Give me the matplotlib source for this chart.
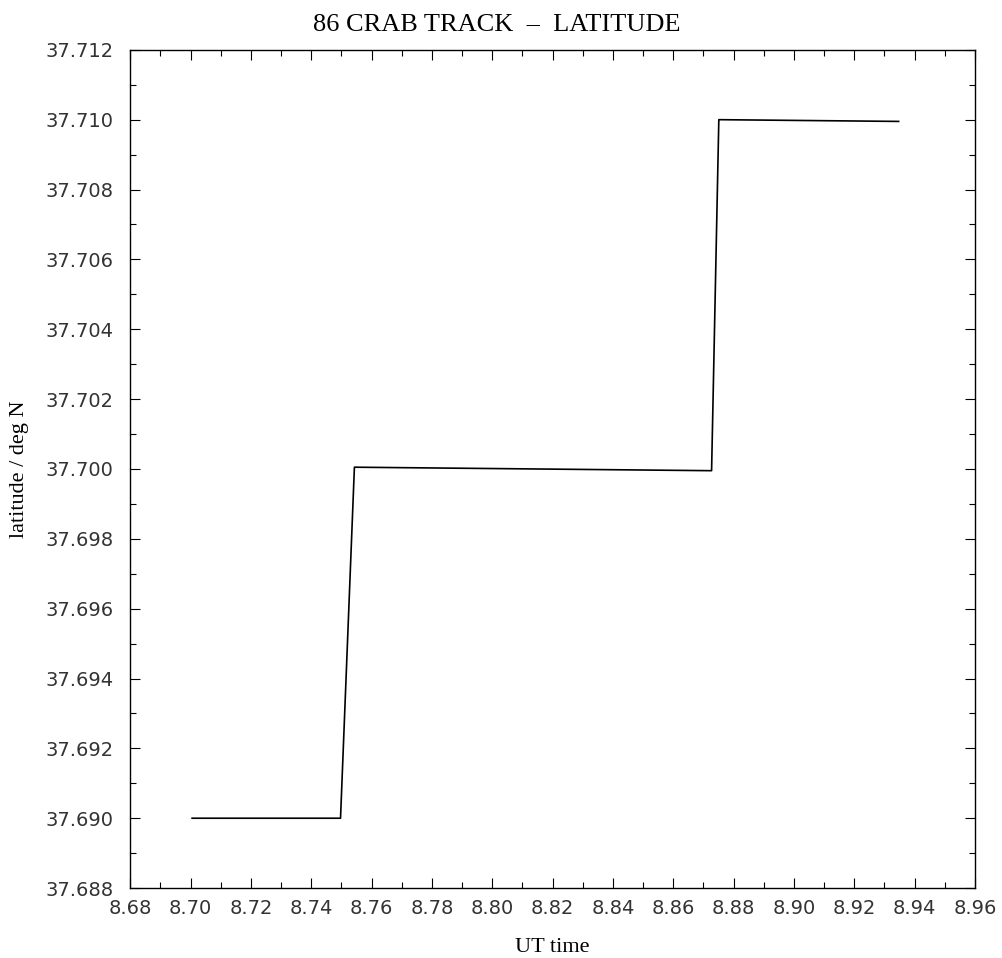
import matplotlib
matplotlib.use("Agg")
import matplotlib.pyplot as plt
from matplotlib.ticker import MultipleLocator, FormatStrFormatter

# Track data
ut_time = [8.7005, 8.7497, 8.7543, 8.8727, 8.8751, 8.9347]
latitude = [37.6900, 37.6900, 37.70005, 37.69995, 37.71000, 37.70995]

x_range = (8.68, 8.96)
y_range = (37.688, 37.712)


def plot_track():
    fig = plt.figure(figsize=(10.02, 9.58), dpi=100)
    ax = fig.add_axes([0.130, 0.073, 0.843, 0.875])

    ax.plot(ut_time, latitude, color="black", linewidth=1.2)

    ax.set_xlim(*x_range)
    ax.set_ylim(*y_range)

    ax.xaxis.set_major_locator(MultipleLocator(0.02))
    ax.xaxis.set_minor_locator(MultipleLocator(0.01))
    ax.yaxis.set_major_locator(MultipleLocator(0.002))
    ax.yaxis.set_minor_locator(MultipleLocator(0.001))
    ax.xaxis.set_major_formatter(FormatStrFormatter("%.2f"))
    ax.yaxis.set_major_formatter(FormatStrFormatter("%.3f"))

    ax.tick_params(which="both", direction="in", top=True, right=True,
                   width=0.8, labelsize=14, labelcolor="#333333")
    ax.tick_params(which="major", length=7)
    ax.tick_params(which="minor", length=4)
    ax.tick_params(axis="x", which="major", pad=8)
    ax.tick_params(axis="y", which="major", pad=12)
    for side in ax.spines.values():
        side.set_linewidth(1.0)

    serif = ["Liberation Serif", "DejaVu Serif"]
    ax.set_xlabel("UT time", fontsize=16, family=serif, labelpad=14)
    ax.set_ylabel("latitude / deg N", fontsize=16, family=serif, labelpad=12)
    fig.text(0.496, 0.974, "86 CRAB TRACK  \u2013  LATITUDE", ha="center",
             va="center", fontsize=19, family=serif)

    fig.savefig("out.png", dpi=100)


if __name__ == "__main__":
    plot_track()
